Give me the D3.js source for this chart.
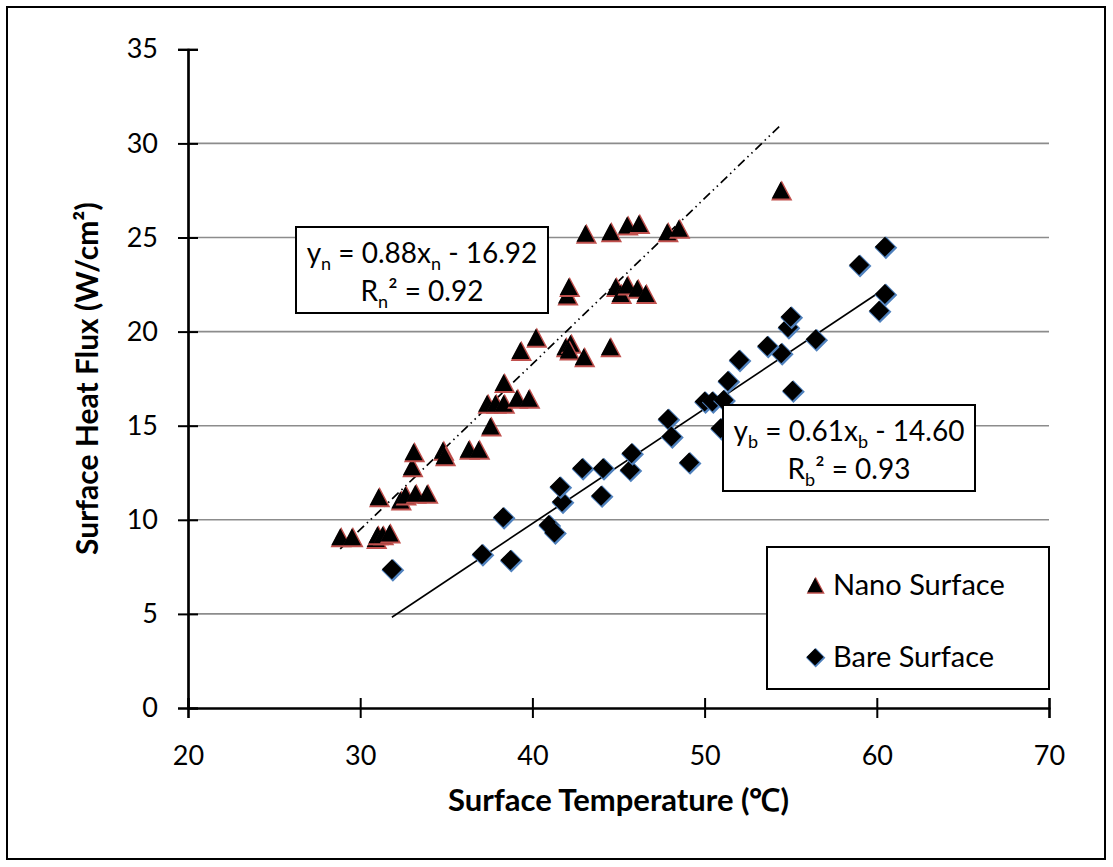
<!DOCTYPE html>
<html><head><meta charset="utf-8">
<script src="https://cdn.jsdelivr.net/npm/d3@7"></script>
<style>body{margin:0;background:#fff}svg{display:block}text{font-family:Lato,"Open Sans",sans-serif}</style>
</head><body><svg id="c" width="1113" height="867"></svg>
<script>
// ---- data ----
const nanoX = [28.84,29.52,30.9,31.0,31.3,31.7,31.07,32.33,32.62,33.2,33.88,33.0,33.1,34.8,34.9,36.3,36.88,37.56,37.37,37.85,38.33,39.1,39.79,38.33,39.3,40.2,41.92,42.21,42.11,42.98,44.5,42.01,42.11,44.83,45.12,45.5,46.09,46.57,43.08,44.53,45.5,46.18,47.83,48.5,54.42];
const nanoY = [9.10,9.10,9.0,9.2,9.2,9.3,11.23,11.05,11.32,11.41,11.41,12.82,13.62,13.7,13.4,13.75,13.75,14.98,16.19,16.19,16.19,16.46,16.46,17.29,19.0,19.7,19.2,19.38,19.02,18.67,19.2,21.94,22.39,22.39,22.03,22.48,22.3,22.03,25.22,25.31,25.66,25.75,25.31,25.49,27.52];
const bareX = [31.84,37.07,38.72,38.3,40.95,41.28,41.72,41.59,43.99,42.89,44.1,45.66,45.76,49.1,47.87,48.07,50.93,50.0,50.45,51.1,51.35,52.0,55.1,54.45,53.64,56.45,54.84,55.0,60.13,60.47,58.97,60.47];
const bareY = [7.37,8.17,7.86,10.13,9.72,9.32,10.96,11.76,11.28,12.74,12.74,12.65,13.53,13.05,15.36,14.42,14.86,16.28,16.28,16.37,17.38,18.49,16.86,18.85,19.23,19.59,20.23,20.79,21.11,22.0,23.54,24.51];
const nanoFit = [0.88, -16.92];   // slope, intercept
const bareFit = [0.61, -14.60];
const xTicks = [20,30,40,50,60,70];
const yTicks = [0,5,10,15,20,25,30,35];
const xMinor = [22,24,26,28,32,34,36,38,42,44,46,48,52,54,56,58,62,64,66,68];
const yMinor = d3.range(0,36).filter(v=>v%5!==0);
const seriesNames = ["Nano Surface","Bare Surface"];

// ---- chart ----
const svg = d3.select("#c");
const x = d3.scaleLinear().domain([20,70]).range([188,1049]);
const y = d3.scaleLinear().domain([0,35]).range([708,49.3]);

svg.append("rect").attr("x",7).attr("y",7).attr("width",1098).attr("height",852)
  .attr("fill","#fff").attr("stroke","#000").attr("stroke-width",2);

// gridlines
svg.append("g").selectAll("line").data(yTicks.filter(v=>v>0 && v<35)).join("line")
  .attr("x1",x(20)).attr("x2",x(70)).attr("y1",d=>y(d)).attr("y2",d=>y(d))
  .attr("stroke","#8c8c8c").attr("stroke-width",1.6);

// fit lines
function fitLine(fit, xs, dash){
  const x0=d3.min(xs), x1=d3.max(xs);
  svg.append("line").attr("x1",x(x0)).attr("y1",y(fit[0]*x0+fit[1]))
    .attr("x2",x(x1)).attr("y2",y(fit[0]*x1+fit[1]))
    .attr("stroke","#000").attr("stroke-width",1.7).attr("stroke-dasharray",dash);
}
fitLine(nanoFit, nanoX, "9,4,1.5,4,1.5,4");
fitLine(bareFit, bareX, null);

// axes
const fmt = d3.format("d");
const gx = svg.append("g").attr("transform",`translate(0,${y(0)})`);
gx.call(d3.axisBottom(x).tickValues(xMinor).tickSize(7).tickFormat(""));
gx.call(d3.axisBottom(x).tickValues(xTicks).tickSize(10).tickPadding(28).tickFormat(fmt));
gx.append("g").call(d3.axisTop(x).tickValues(xTicks).tickSize(10).tickFormat(""));
const gy = svg.append("g").attr("transform",`translate(${x(20)},0)`);
gy.call(d3.axisLeft(y).tickValues(yMinor).tickSize(7).tickFormat(""));
gy.call(d3.axisLeft(y).tickValues(yTicks).tickSize(10).tickPadding(20).tickFormat(fmt));
gy.append("g").call(d3.axisRight(y).tickValues(yTicks).tickSize(10).tickFormat(""));
svg.selectAll(".domain").attr("stroke","#000").attr("stroke-width",2.2);
svg.selectAll(".tick line").attr("stroke","#000").attr("stroke-width",2);
svg.selectAll(".tick text").attr("font-size",27).attr("fill","#000")
  .style("font-family","Lato, sans-serif");

// markers
const tri = "M0,-8.5L9,8.5L-9,8.5Z";
const dia = "M0,-10L10,0L0,10L-10,0Z";
function markers(xs, ys, path, col){
  const g = svg.append("g");
  const pts = xs.map((v,i)=>[v,ys[i]]);
  const m = g.selectAll("g").data(pts).join("g")
    .attr("transform",d=>`translate(${x(d[0])},${y(d[1])})`);
  m.append("path").attr("d",path).attr("transform","translate(1,1)").attr("fill",col).attr("stroke",col).attr("stroke-width",2);
  m.append("path").attr("d",path).attr("fill","#000");
}
markers(bareX, bareY, dia, "#4f81bd");
markers(nanoX, nanoY, tri, "#c0504d");

// equation boxes
function eqBox(bx, by, sub, fit, r2){
  const g = svg.append("g");
  g.append("rect").attr("x",bx).attr("y",by).attr("width",252).attr("height",86)
    .attr("fill","#fff").attr("stroke","#000").attr("stroke-width",2);
  const cx = bx+126;
  const t1 = g.append("text").attr("x",cx).attr("y",by+36).attr("text-anchor","middle").attr("font-size",28);
  t1.append("tspan").text("y");
  t1.append("tspan").text(sub).attr("font-size",18).attr("dy",7);
  t1.append("tspan").text(` = ${fit[0].toFixed(2)}x`).attr("dy",-7);
  t1.append("tspan").text(sub).attr("font-size",18).attr("dy",7);
  t1.append("tspan").text(` - ${Math.abs(fit[1]).toFixed(2)}`).attr("dy",-7);
  const t2 = g.append("text").attr("x",cx).attr("y",by+74).attr("text-anchor","middle").attr("font-size",28);
  t2.append("tspan").text("R");
  t2.append("tspan").text(sub).attr("font-size",18).attr("dy",7);
  t2.append("tspan").text("² = "+r2).attr("dy",-7);
}
eqBox(296,227,"n",nanoFit,"0.92");
eqBox(723,405,"b",bareFit,"0.93");

// legend
const lg = svg.append("g");
lg.append("rect").attr("x",767).attr("y",547).attr("width",282).attr("height",142)
  .attr("fill","#fff").attr("stroke","#000").attr("stroke-width",2);
const shapes=[[tri,"#c0504d"],[dia,"#4f81bd"]];
seriesNames.forEach((n,i)=>{
  const yy = 585 + i*72;
  const s = lg.append("g").attr("transform",`translate(815,${yy})`);
  s.append("path").attr("d",shapes[i][0]).attr("transform","translate(0.7,0.7) scale(0.85)").attr("fill",shapes[i][1]).attr("stroke",shapes[i][1]).attr("stroke-width",2);
  s.append("path").attr("d",shapes[i][0]).attr("transform","scale(0.85)").attr("fill","#000");
  lg.append("text").attr("x",833).attr("y",yy+10).attr("font-size",29).text(n);
});

// axis titles
svg.append("text").attr("x",(x(20)+x(70))/2).attr("y",811).attr("text-anchor","middle")
  .attr("font-size",31).attr("font-weight","bold").text("Surface Temperature (℃)");
svg.append("text").attr("transform",`translate(98,${(y(0)+y(35))/2}) rotate(-90)`).attr("text-anchor","middle")
  .attr("font-size",30).attr("font-weight","bold").text("Surface Heat Flux (W/cm²)");
</script></body></html>
